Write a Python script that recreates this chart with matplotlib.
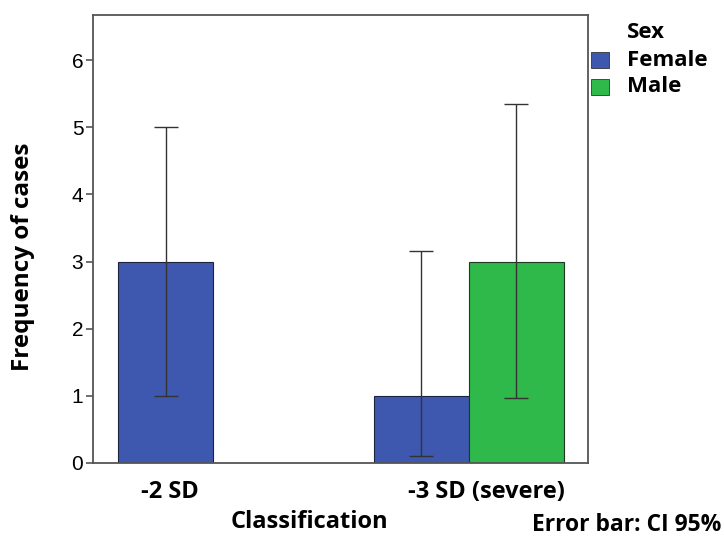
import matplotlib.pyplot as plt
import matplotlib.patches as mpatches
import numpy as np

# data
categories = ['-2 SD', '-3 SD (severe)']
female = [3, 1]
female_lo = [1, 0.1]
female_hi = [5, 3.15]
male = [0, 3]        # no male cases at -2 SD, bar not drawn
male_lo = [np.nan, 0.97]
male_hi = [np.nan, 5.35]
yticks = [0, 1, 2, 3, 4, 5, 6]

blue = '#3E58B0'
green = '#2EB94A'
bold_font = ['Open Sans', 'DejaVu Sans']
tick_font = ['Liberation Sans', 'DejaVu Sans']

fig = plt.figure(figsize=(7.24, 5.36), dpi=100)
ax = fig.add_axes([0.1285, 0.1362, 0.812 - 0.1285, 0.972 - 0.1362])

x = np.arange(len(categories))
w = 0.371

f_err = [np.array(female) - np.array(female_lo), np.array(female_hi) - np.array(female)]
ax.bar(x - w / 2, female, w, color=blue, edgecolor='#1c2240', linewidth=0.8, zorder=2)
ax.errorbar(x - w / 2, female, yerr=f_err, fmt='none', ecolor='#333333', elinewidth=1,
            capsize=8.5, capthick=1, zorder=3)

# male only for the second group
m_x = x[1:] + w / 2
m_val = male[1:]
m_err = [np.array(m_val) - np.array(male_lo[1:]), np.array(male_hi[1:]) - np.array(m_val)]
ax.bar(m_x, m_val, w, color=green, edgecolor='#1c3a20', linewidth=0.8, zorder=2)
ax.errorbar(m_x, m_val, yerr=m_err, fmt='none', ecolor='#333333', elinewidth=1,
            capsize=8.5, capthick=1, zorder=3)

ax.set_xlim(-0.469, 1.465)
ax.set_ylim(0, 6.67)
ax.set_yticks(yticks)
ax.set_yticklabels([str(t) for t in yticks], fontsize=15, family=tick_font)
ax.tick_params(axis='y', length=5, width=1.2, color='#555555', pad=2)

# category labels sit slightly off the group centres in the original
ax.set_xticks([-0.17, 1.07])
ax.set_xticklabels(categories, fontsize=17, fontweight='bold', family=bold_font)
ax.tick_params(axis='x', length=0, pad=12)

for s in ax.spines.values():
    s.set_color('#555555')
    s.set_linewidth(1.3)

ax.set_ylabel('Frequency of cases', fontsize=17.5, fontweight='bold', family=bold_font)
ax.yaxis.set_label_coords(-0.117, 0.46)
ax.set_xlabel('Classification', fontsize=17, fontweight='bold', family=bold_font)
ax.xaxis.set_label_coords(0.438, -0.105)

# legend drawn by hand so the title lines up with the labels
fig.text(627 / 724, 1 - 33 / 536, 'Sex', ha='left', va='center', fontsize=16,
         fontweight='bold', family=bold_font)
for i, (name, col) in enumerate([('Female', blue), ('Male', green)]):
    yc = 60 + 27 * i
    fig.patches.append(mpatches.Rectangle((591 / 724, 1 - (yc + 8) / 536), 18 / 724, 16 / 536,
                                          transform=fig.transFigure, facecolor=col,
                                          edgecolor='#333333', linewidth=0.6))
    fig.text(627 / 724, 1 - yc / 536, name, ha='left', va='center', fontsize=16,
             fontweight='bold', family=bold_font)

fig.text(0.997, 1 - 525 / 536, 'Error bar: CI 95%', ha='right', va='center', fontsize=16.5,
         fontweight='bold', family=bold_font)

fig.savefig('out.png', dpi=100)
